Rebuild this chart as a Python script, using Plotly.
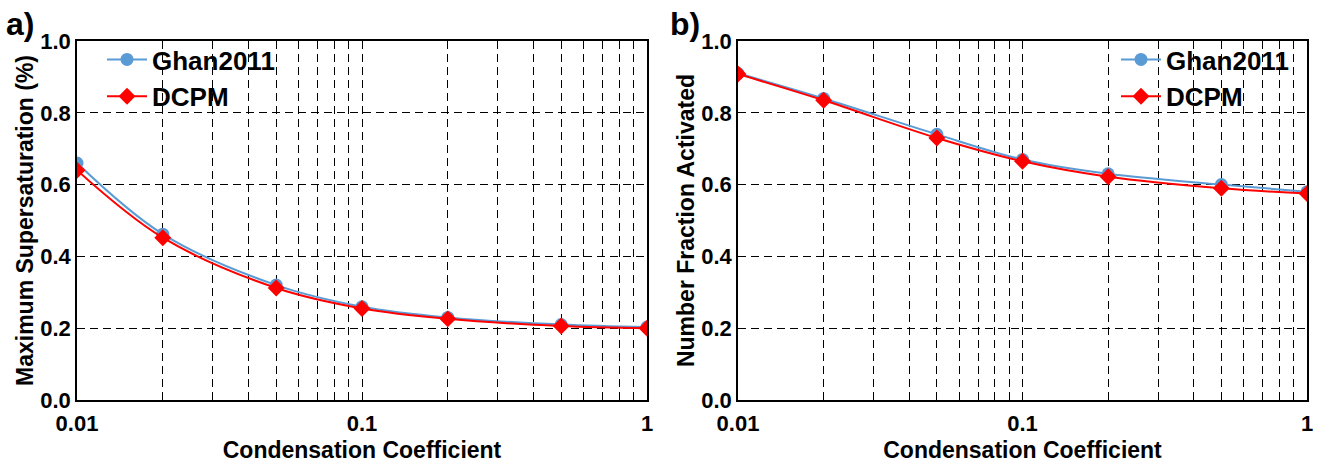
import plotly.graph_objects as go

coef = [0.01, 0.02, 0.05, 0.1, 0.2, 0.5, 1.0]
smax_ghan = [0.66, 0.462, 0.32, 0.26, 0.23, 0.21, 0.203]
smax_dcpm = [0.64, 0.452, 0.312, 0.255, 0.226, 0.206, 0.200]
nfa_ghan = [0.91, 0.84, 0.74, 0.67, 0.63, 0.60, 0.58]
nfa_dcpm = [0.908, 0.835, 0.73, 0.665, 0.622, 0.59, 0.575]

x_major = [0.01, 0.1, 1]
x_major_text = ["0.01", "0.1", "1"]
x_minor = [0.02, 0.03, 0.04, 0.05, 0.06, 0.07, 0.08, 0.09,
           0.2, 0.3, 0.4, 0.5, 0.6, 0.7, 0.8, 0.9]
y_ticks = [0.0, 0.2, 0.4, 0.6, 0.8, 1.0]
y_text = ["0.0", "0.2", "0.4", "0.6", "0.8", "1.0"]

BLUE = "#5B9BD5"
RED = "#FF0000"
FONT = "Liberation Sans, Arial, sans-serif"
DASH = "8px,5px"

fig = go.Figure()

def add_pair(ghan, dcpm, xa, ya, leg):
    fig.add_trace(go.Scatter(x=coef, y=ghan, name="Ghan2011", mode="lines+markers",
                             line=dict(color=BLUE, width=2, shape="spline"),
                             marker=dict(symbol="circle", size=13, color=BLUE),
                             xaxis=xa, yaxis=ya, legend=leg))
    fig.add_trace(go.Scatter(x=coef, y=dcpm, name="DCPM", mode="lines+markers",
                             line=dict(color=RED, width=2, shape="spline"),
                             marker=dict(symbol="diamond", size=13, color=RED),
                             xaxis=xa, yaxis=ya, legend=leg))

add_pair(smax_ghan, smax_dcpm, "x", "y", "legend")
add_pair(nfa_ghan, nfa_dcpm, "x2", "y2", "legend2")

tickfont = dict(family=FONT, size=22, color="black", weight="bold")
titlefont = dict(family=FONT, size=23, color="black", weight="bold")

def xaxis(domain, anchor):
    return dict(domain=domain, anchor=anchor, type="log", range=[-2, 0],
                tickmode="array", tickvals=x_major, ticktext=x_major_text,
                showgrid=True, gridcolor="black", griddash=DASH, gridwidth=1,
                minor=dict(tickmode="array", tickvals=x_minor, showgrid=True,
                           gridcolor="black", griddash=DASH, gridwidth=1, ticks=""),
                showline=True, linecolor="black", linewidth=1.5, mirror=True,
                ticks="", tickfont=tickfont, ticklabelstandoff=3, automargin=False,
                title=dict(text="Condensation Coefficient", font=titlefont, standoff=7),
                zeroline=False)

def yaxis(domain, anchor, title):
    return dict(domain=domain, anchor=anchor, range=[0, 1],
                tickmode="array", tickvals=y_ticks, ticktext=y_text,
                showgrid=True, gridcolor="black", griddash=DASH, gridwidth=1,
                showline=True, linecolor="black", linewidth=1.5, mirror=True,
                ticks="", tickfont=tickfont, ticklabelstandoff=0, automargin=False,
                title=dict(text=title, font=titlefont, standoff=0),
                zeroline=False)

ydom = [1 - 400 / 474, 1 - 41 / 474]
legfont = dict(family=FONT, size=26, color="black", weight="bold")
fig.update_layout(
    width=1323, height=474,
    margin=dict(l=0, r=0, t=0, b=0),
    paper_bgcolor="white", plot_bgcolor="white",
    font=dict(family=FONT, color="black"),
    xaxis=xaxis([77 / 1323, 647 / 1323], "y"),
    yaxis=yaxis(ydom, "x", "Maximum Supersaturation (%)"),
    xaxis2=xaxis([738 / 1323, 1307 / 1323], "y2"),
    yaxis2=yaxis(ydom, "x2", "Number Fraction Activated"),
    legend=dict(x=102 / 1323, y=1 - 36 / 474, xanchor="left", yanchor="top",
                bgcolor="rgba(255,255,255,0)", tracegroupgap=0,
                font=legfont, itemwidth=40),
    legend2=dict(x=1294 / 1323, y=1 - 36 / 474, xanchor="right", yanchor="top",
                 bgcolor="rgba(255,255,255,0)", tracegroupgap=0,
                 font=legfont, itemwidth=40),
    showlegend=True,
    annotations=[
        dict(text="a)", x=4 / 1323, y=1 - 4 / 474, xref="paper", yref="paper",
             xanchor="left", yanchor="top", showarrow=False,
             font=dict(family=FONT, size=32, color="black", weight="bold")),
        dict(text="b)", x=668 / 1323, y=1 - 4 / 474, xref="paper", yref="paper",
             xanchor="left", yanchor="top", showarrow=False,
             font=dict(family=FONT, size=32, color="black", weight="bold")),
    ],
)

fig.write_html("out.html")
